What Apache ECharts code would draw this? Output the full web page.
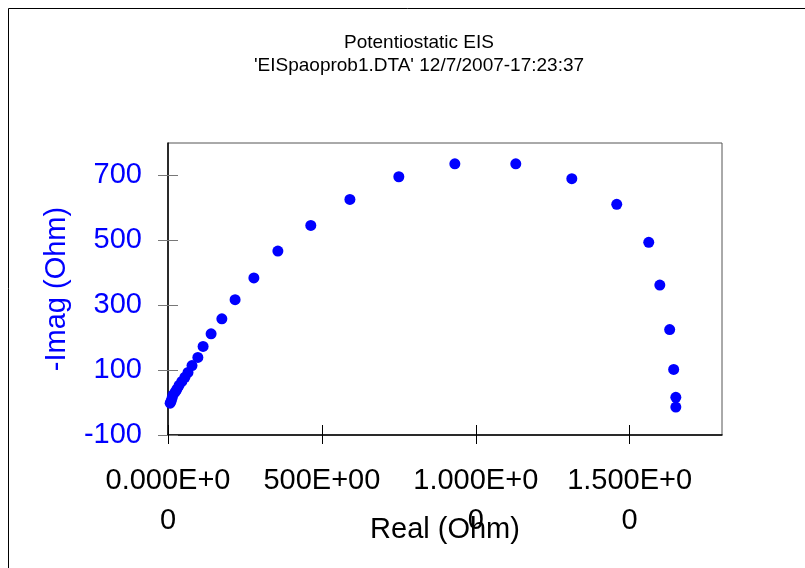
<!DOCTYPE html>
<html lang='en'>
<head>
  <meta charset='UTF-8'>
  <title>Potentiostatic EIS</title>
  <script src="https://cdn.jsdelivr.net/npm/echarts@6/dist/echarts.min.js"></script>
  <style>
    html, body { margin: 0; padding: 0; background: #fff; }
  </style>
</head>
<body>
<div id="main" style="width: 805px; height: 568px;"></div>
<script>
  // Nyquist data (Ohm)
  const realOhm = [7, 10, 13, 16, 23, 29, 36, 45, 55, 65, 78, 97, 114, 140, 175, 218, 279, 357, 464, 591, 750, 932, 1130, 1312, 1458, 1562, 1598, 1630, 1643, 1650, 1650]
  const imagOhm = [-2, 4, 13, 23, 32, 41, 53, 65, 78, 93, 114, 139, 173, 212, 258, 317, 384, 467, 546, 626, 696, 736, 736, 690, 611, 494, 362, 225, 102, 16, -14]

  const xTicks = [0, 500, 1000, 1500]
  const xTickLabels = ['0.000E+0\n0', '500E+00', '1.000E+0\n0', '1.500E+0\n0']
  const yTicks = [-100, 100, 300, 500, 700]

  const points = realOhm.map((x, i) => [x, imagOhm[i]])
  const font = 'Liberation Sans, Arial, sans-serif'

  var myChart = echarts.init(document.getElementById('main'));
  var option = {
    backgroundColor: '#fff',
    animation: false,
    title: {
      text: "Potentiostatic EIS\n'EISpaoprob1.DTA' 12/7/2007-17:23:37",
      left: 414,
      top: 26,
      textAlign: 'center',
      textStyle: {
        fontFamily: font,
        fontSize: 19,
        fontWeight: 'normal',
        color: '#000',
        lineHeight: 23
      }
    },
    graphic: [{
      type: 'rect',
      shape: { x: 8.5, y: 8.5, width: 820, height: 590 },
      style: { fill: 'none', stroke: '#000', lineWidth: 1 },
      silent: true
    }],
    grid: {
      left: 168,
      right: 83,
      top: 143,
      bottom: 133,
      containLabel: false,
      outerBoundsMode: 'none',
      show: true,
      borderColor: '#555',
      borderWidth: 1
    },
    xAxis: [{
      type: 'value',
      min: 0,
      max: 1800,
      name: 'Real (Ohm)',
      nameLocation: 'middle',
      nameGap: 80,
      nameMoveOverlap: false,
      nameTextStyle: { fontFamily: font, fontSize: 29, color: '#000' },
      axisLine: { show: true, onZero: false, lineStyle: { color: '#000', width: 1.5 } },
      axisTick: { show: true, inside: false, length: 9, customValues: xTicks, lineStyle: { color: '#000' } },
      splitLine: { show: false },
      axisLabel: {
        customValues: xTicks,
        margin: 26,
        fontFamily: font,
        fontSize: 29,
        lineHeight: 40,
        color: '#000',
        formatter: v => xTickLabels[xTicks.indexOf(v)]
      }
    }, {
      type: 'value',
      min: 0,
      max: 1800,
      position: 'bottom',
      axisLine: { show: false, onZero: false },
      axisTick: { show: true, inside: true, length: 10, customValues: xTicks, lineStyle: { color: '#000' } },
      axisLabel: { show: false },
      splitLine: { show: false }
    }],
    yAxis: [{
      type: 'value',
      min: -100,
      max: 800,
      name: '-Imag (Ohm)',
      nameLocation: 'middle',
      nameGap: 97,
      nameMoveOverlap: false,
      nameTextStyle: { fontFamily: font, fontSize: 29, color: '#0000ff' },
      axisLine: { show: true, onZero: false, lineStyle: { color: '#000', width: 1.5 } },
      axisTick: { show: true, inside: false, length: 10, customValues: yTicks, lineStyle: { color: '#777' } },
      splitLine: { show: false },
      axisLabel: {
        customValues: yTicks,
        margin: 26,
        fontFamily: font,
        fontSize: 29,
        color: '#0000ff'
      }
    }, {
      type: 'value',
      min: -100,
      max: 800,
      position: 'left',
      axisLine: { show: false, onZero: false },
      axisTick: { show: true, inside: true, length: 10, customValues: yTicks, lineStyle: { color: '#777' } },
      axisLabel: { show: false },
      splitLine: { show: false }
    }],
    series: [{
      type: 'scatter',
      xAxisIndex: 0,
      yAxisIndex: 0,
      symbol: 'circle',
      symbolSize: 11,
      itemStyle: { color: '#0000ff', opacity: 1 },
      data: points
    }]
  };
  myChart.setOption(option);
</script>
</body>
</html>
